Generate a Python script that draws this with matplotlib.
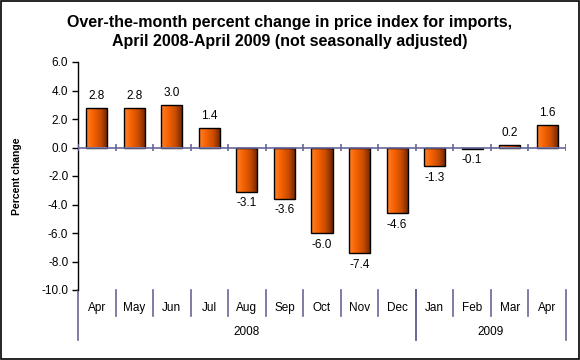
import matplotlib
matplotlib.use("Agg")
import matplotlib.pyplot as plt
import numpy as np
from matplotlib.colors import LinearSegmentedColormap

plt.rcParams['font.family'] = ['Liberation Sans', 'DejaVu Sans']

# data
months = ['Apr', 'May', 'Jun', 'Jul', 'Aug', 'Sep', 'Oct', 'Nov', 'Dec',
          'Jan', 'Feb', 'Mar', 'Apr']
years = ['2008', '2009']
year_counts = [9, 4]
values = [2.8, 2.8, 3.0, 1.4, -3.1, -3.6, -6.0, -7.4, -4.6, -1.3, -0.1, 0.2, 1.6]
yticks = [6.0, 4.0, 2.0, 0.0, -2.0, -4.0, -6.0, -8.0, -10.0]

fig = plt.figure(figsize=(5.8, 3.6), dpi=100)
W, H = 580, 360
ax = fig.add_axes([78 / W, (H - 290) / H, (566 - 78) / W, (290 - 62) / H])

# border around the whole picture
fig.patches.append(plt.Rectangle((0.001, 0.002), 0.997, 0.995, transform=fig.transFigure,
                                 fill=False, edgecolor='black', linewidth=1.2))

grad = LinearSegmentedColormap.from_list('bar', ['#ff7f2a', '#f56200', '#c84b00', '#6a2400'])
gimg = np.linspace(0, 1, 64).reshape(1, -1)

x = np.arange(len(values))
w = 0.56
bars = ax.bar(x, values, width=w, facecolor='none', edgecolor='black', linewidth=1, zorder=3)
for b, xi, v in zip(bars, x, values):
    im = ax.imshow(gimg, cmap=grad, aspect='auto', extent=(xi - w / 2, xi + w / 2, 0, v),
                   origin='lower', zorder=2)
    im.set_clip_path(b)
    if v >= 0:
        ax.annotate('%.1f' % v, (xi, v), xytext=(0, 4), textcoords='offset points',
                    ha='center', va='bottom', fontsize=8.5)
    else:
        ax.annotate('%.1f' % v, (xi, v), xytext=(0, -4), textcoords='offset points',
                    ha='center', va='top', fontsize=8.5)

ax.set_xlim(-0.5, len(values) - 0.5)
ax.set_ylim(-10, 6)
ax.set_yticks(yticks)
ax.set_yticklabels(['%.1f' % t for t in yticks], fontsize=8.5)
ax.set_xticks([])
for s in ['top', 'right', 'bottom']:
    ax.spines[s].set_visible(False)
ax.spines['left'].set_linewidth(1)
ax.tick_params(axis='y', length=4, width=1, pad=3)

# zero line with tick marks
axis_col = '#666699'
ax.axhline(0, color=axis_col, linewidth=1.2, zorder=4)
ax.vlines(np.arange(len(values) + 1) - 0.5, -0.25, 0.25, color=axis_col, linewidth=1.2, zorder=4)

# category axis below the plot
tr = ax.get_xaxis_transform()
for b in np.arange(1, len(values)) - 0.5:
    ax.plot([b, b], [0, -0.115], transform=tr, color=axis_col, linewidth=1.2, clip_on=False)
for i, m in enumerate(months):
    ax.text(i, -0.078, m, transform=tr, ha='center', va='center', fontsize=8.5)
start = 0
for yr, n in zip(years, year_counts):
    for b in [start - 0.5, start + n - 0.5]:
        ax.plot([b, b], [0, -0.22], transform=tr, color=axis_col, linewidth=1.2, clip_on=False)
    ax.text(start + n / 2 - 0.5, -0.185, yr, transform=tr, ha='center', va='center', fontsize=8.5)
    start += n

ax.set_ylabel('Percent change', fontsize=7.5, fontweight='bold', labelpad=14)
fig.text(0.5, 1 - 32 / H, 'Over-the-month percent change in price index for imports,\n'
         'April 2008-April 2009 (not seasonally adjusted)',
         ha='center', va='center', fontsize=11.5, fontweight='bold', linespacing=1.4)

fig.savefig('out.png', dpi=100)
